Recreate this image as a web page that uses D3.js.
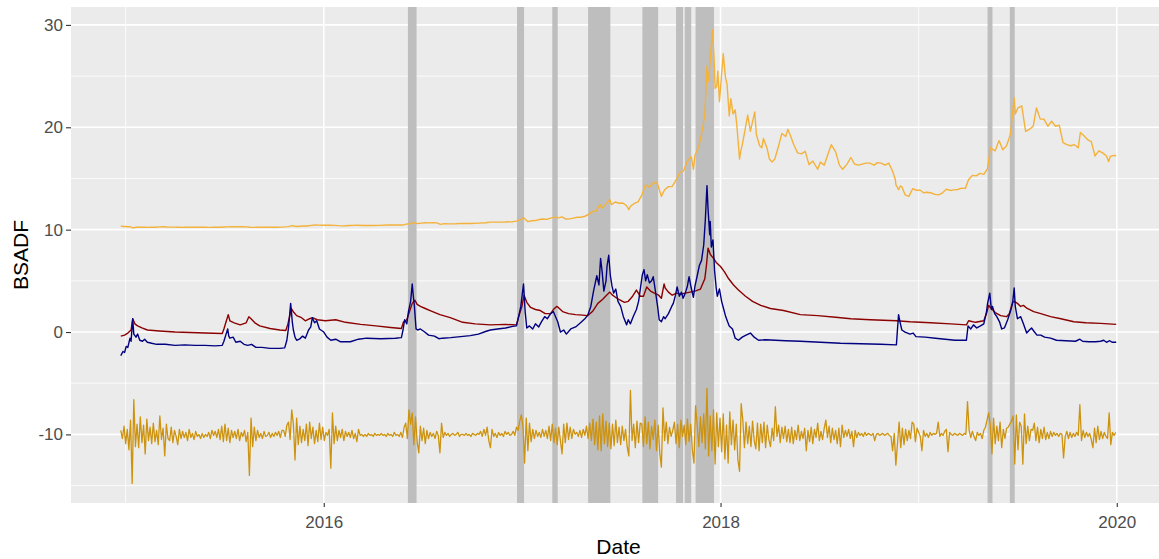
<!DOCTYPE html>
<html><head><meta charset="utf-8">
<script src="https://cdn.jsdelivr.net/npm/d3@7"></script>
<style>
body{margin:0;background:#fff;}
text{font-family:"Liberation Sans",Arial,Helvetica,sans-serif;}
</style>
</head><body>
<svg id="chart" width="1159" height="559"></svg>
<script>
// ---------------- DATA ----------------
const seriesStart = "2014-12-23";
const seriesEnd = "2019-12-31";
const yTickValues = [-10, 0, 10, 20, 30];
const yMinorValues = [-15, -5, 5, 15, 25];
const xTickLabels = ["2016", "2018", "2020"];
const xMinorLabels = ["2015", "2017", "2019"];
const xTitle = "Date";
const yTitle = "BSADF";

// shaded bubble periods [start, end]
const bubbleStarts = ["2016-06-04","2016-12-22","2017-02-25","2017-05-02","2017-08-10","2017-10-11","2017-10-27","2017-11-16","2019-05-08","2019-06-18"];
const bubbleEnds   = ["2016-06-20","2017-01-04","2017-03-07","2017-06-12","2017-09-08","2017-10-24","2017-11-08","2017-12-20","2019-05-17","2019-06-27"];

// price series (light orange)
const priceDates = ["2014-12-23","2014-12-30","2015-01-06","2015-01-10","2015-01-14","2015-01-21","2015-01-28","2015-02-04","2015-02-11","2015-02-18","2015-02-25","2015-03-04","2015-03-11","2015-03-18","2015-03-25","2015-04-01","2015-04-08","2015-04-15","2015-04-22","2015-04-29","2015-05-06","2015-05-13","2015-05-20","2015-05-27","2015-06-03","2015-06-10","2015-06-17","2015-06-24","2015-07-01","2015-07-08","2015-07-15","2015-07-22","2015-07-29","2015-08-05","2015-08-12","2015-08-19","2015-08-26","2015-09-02","2015-09-09","2015-09-16","2015-09-23","2015-09-30","2015-10-07","2015-10-14","2015-10-21","2015-10-28","2015-11-04","2015-11-11","2015-11-18","2015-11-25","2015-12-02","2015-12-09","2015-12-16","2015-12-23","2015-12-30","2016-01-06","2016-01-13","2016-01-20","2016-01-27","2016-02-03","2016-02-10","2016-02-17","2016-02-24","2016-03-02","2016-03-16","2016-03-30","2016-04-13","2016-04-27","2016-05-11","2016-05-25","2016-06-01","2016-06-08","2016-06-15","2016-06-22","2016-06-29","2016-07-06","2016-07-13","2016-07-20","2016-07-27","2016-08-03","2016-08-10","2016-08-17","2016-08-31","2016-09-14","2016-09-28","2016-10-12","2016-10-26","2016-11-02","2016-11-16","2016-11-30","2016-12-14","2016-12-21","2016-12-28","2017-01-04","2017-01-11","2017-01-18","2017-01-25","2017-02-01","2017-02-08","2017-02-15","2017-02-22","2017-03-01","2017-03-08","2017-03-15","2017-03-22","2017-03-29","2017-04-05","2017-04-12","2017-04-19","2017-04-26","2017-05-03","2017-05-10","2017-05-17","2017-05-24","2017-05-27","2017-05-31","2017-06-07","2017-06-11","2017-06-14","2017-06-21","2017-06-28","2017-07-05","2017-07-12","2017-07-16","2017-07-19","2017-07-26","2017-08-02","2017-08-09","2017-08-16","2017-08-23","2017-08-30","2017-09-06","2017-09-14","2017-09-20","2017-09-27","2017-10-04","2017-10-11","2017-10-18","2017-10-25","2017-11-01","2017-11-08","2017-11-12","2017-11-15","2017-11-22","2017-11-29","2017-12-03","2017-12-07","2017-12-10","2017-12-13","2017-12-17","2017-12-20","2017-12-22","2017-12-25","2017-12-27","2017-12-30","2018-01-03","2018-01-06","2018-01-10","2018-01-13","2018-01-17","2018-01-20","2018-01-24","2018-01-28","2018-01-31","2018-02-05","2018-02-07","2018-02-10","2018-02-14","2018-02-20","2018-02-25","2018-03-05","2018-03-08","2018-03-14","2018-03-18","2018-03-21","2018-03-28","2018-04-01","2018-04-06","2018-04-11","2018-04-18","2018-04-24","2018-05-01","2018-05-05","2018-05-09","2018-05-16","2018-05-23","2018-05-30","2018-06-06","2018-06-13","2018-06-20","2018-06-29","2018-07-04","2018-07-11","2018-07-18","2018-07-24","2018-08-01","2018-08-08","2018-08-14","2018-08-22","2018-08-29","2018-09-05","2018-09-12","2018-09-19","2018-09-26","2018-10-03","2018-10-11","2018-10-17","2018-10-24","2018-10-31","2018-11-07","2018-11-14","2018-11-19","2018-11-20","2018-11-25","2018-11-28","2018-12-01","2018-12-07","2018-12-14","2018-12-21","2018-12-28","2019-01-04","2019-01-10","2019-01-17","2019-01-24","2019-01-31","2019-02-07","2019-02-14","2019-02-21","2019-02-28","2019-03-07","2019-03-14","2019-03-21","2019-03-28","2019-04-03","2019-04-10","2019-04-17","2019-04-24","2019-05-01","2019-05-08","2019-05-13","2019-05-16","2019-05-22","2019-05-29","2019-06-05","2019-06-12","2019-06-19","2019-06-22","2019-06-26","2019-06-28","2019-07-03","2019-07-10","2019-07-17","2019-07-24","2019-07-31","2019-08-06","2019-08-13","2019-08-20","2019-08-27","2019-09-03","2019-09-10","2019-09-17","2019-09-24","2019-10-01","2019-10-08","2019-10-15","2019-10-22","2019-10-26","2019-11-01","2019-11-08","2019-11-15","2019-11-22","2019-11-29","2019-12-06","2019-12-13","2019-12-17","2019-12-20","2019-12-27","2019-12-31"];
const priceValues = [10.33,10.31,10.29,10.27,10.18,10.23,10.23,10.23,10.22,10.24,10.24,10.27,10.29,10.26,10.25,10.25,10.24,10.22,10.23,10.23,10.23,10.24,10.23,10.24,10.22,10.23,10.25,10.24,10.26,10.27,10.29,10.28,10.29,10.28,10.27,10.23,10.22,10.23,10.24,10.23,10.23,10.24,10.24,10.25,10.27,10.30,10.40,10.31,10.34,10.36,10.36,10.42,10.45,10.44,10.43,10.43,10.43,10.42,10.39,10.37,10.38,10.41,10.42,10.43,10.41,10.41,10.42,10.45,10.45,10.45,10.54,10.58,10.69,10.59,10.64,10.67,10.66,10.67,10.66,10.52,10.59,10.57,10.58,10.61,10.60,10.64,10.68,10.74,10.74,10.75,10.78,10.83,10.98,11.15,10.78,10.87,10.89,10.99,11.04,11.01,11.13,11.22,11.15,11.25,11.04,11.05,11.13,11.21,11.21,11.31,11.49,11.76,11.84,12.46,12.10,12.30,12.69,12.95,12.45,12.70,12.58,12.61,12.33,11.95,12.28,12.56,12.72,13.38,14.38,14.15,14.58,14.60,13.25,13.90,14.20,14.22,14.83,15.60,15.75,16.70,17.13,15.90,17.30,18.10,19.90,21.20,26.00,24.50,26.60,29.50,26.80,23.80,24.00,25.50,22.50,25.20,27.20,24.90,24.20,21.10,22.80,21.30,21.70,20.20,16.90,17.60,18.30,19.40,21.20,19.60,21.50,19.30,18.20,18.00,18.90,17.90,16.90,16.60,16.90,18.20,19.40,19.10,19.80,19.30,18.30,17.50,17.40,17.65,16.35,16.70,15.90,16.60,16.30,17.40,18.30,17.60,16.30,15.90,16.40,17.05,16.40,16.30,16.40,16.50,16.50,16.30,16.55,16.50,16.30,16.50,15.70,14.90,14.40,13.90,14.25,14.20,13.40,13.25,14.00,13.85,13.85,13.60,13.65,13.58,13.45,13.40,13.60,13.95,13.83,13.89,13.92,14.05,14.03,14.90,15.30,15.25,15.50,15.40,15.95,18.00,17.90,17.70,18.70,17.80,18.20,19.30,20.80,22.90,21.30,21.90,22.10,19.60,19.80,20.10,21.90,20.80,20.80,20.10,20.60,20.10,20.20,18.50,18.30,18.20,18.30,18.00,19.50,19.20,18.80,18.60,17.20,17.70,17.50,17.20,16.65,17.15,17.25,17.20];

// BSADF statistic (navy)
const bsadfDates = ["2014-12-23","2014-12-27","2014-12-30","2015-01-02","2015-01-05","2015-01-09","2015-01-11","2015-01-14","2015-01-16","2015-01-20","2015-01-23","2015-01-27","2015-02-01","2015-02-05","2015-02-10","2015-02-18","2015-02-27","2015-03-15","2015-04-02","2015-04-20","2015-05-09","2015-05-27","2015-06-15","2015-06-28","2015-07-01","2015-07-05","2015-07-08","2015-07-10","2015-07-12","2015-07-18","2015-07-23","2015-07-31","2015-08-07","2015-08-14","2015-08-21","2015-08-29","2015-09-09","2015-09-24","2015-10-12","2015-10-21","2015-10-25","2015-10-28","2015-11-01","2015-11-04","2015-11-06","2015-11-09","2015-11-12","2015-11-17","2015-11-23","2015-11-28","2015-12-04","2015-12-08","2015-12-11","2015-12-15","2015-12-19","2015-12-24","2016-01-01","2016-01-07","2016-01-14","2016-01-23","2016-02-01","2016-02-19","2016-03-05","2016-03-20","2016-04-15","2016-05-12","2016-05-23","2016-05-26","2016-05-29","2016-06-02","2016-06-05","2016-06-09","2016-06-12","2016-06-14","2016-06-16","2016-06-19","2016-06-22","2016-06-27","2016-07-05","2016-07-12","2016-07-23","2016-07-31","2016-08-07","2016-08-22","2016-09-09","2016-09-27","2016-10-12","2016-10-25","2016-11-03","2016-11-16","2016-12-01","2016-12-14","2016-12-21","2016-12-25","2016-12-29","2017-01-03","2017-01-06","2017-01-09","2017-01-14","2017-01-20","2017-01-25","2017-01-31","2017-02-05","2017-02-11","2017-02-16","2017-02-22","2017-02-27","2017-03-03","2017-03-07","2017-03-12","2017-03-18","2017-03-23","2017-03-31","2017-04-09","2017-04-18","2017-04-26","2017-05-01","2017-05-07","2017-05-12","2017-05-18","2017-05-22","2017-05-25","2017-05-28","2017-05-31","2017-06-04","2017-06-06","2017-06-09","2017-06-12","2017-06-15","2017-06-18","2017-06-22","2017-06-26","2017-07-01","2017-07-06","2017-07-12","2017-07-15","2017-07-19","2017-07-24","2017-07-30","2017-08-03","2017-08-07","2017-08-10","2017-08-13","2017-08-16","2017-08-19","2017-08-23","2017-08-27","2017-08-30","2017-09-03","2017-09-07","2017-09-10","2017-09-14","2017-09-18","2017-09-21","2017-09-27","2017-10-03","2017-10-06","2017-10-10","2017-10-13","2017-10-17","2017-10-21","2017-10-24","2017-10-28","2017-11-01","2017-11-04","2017-11-08","2017-11-12","2017-11-15","2017-11-19","2017-11-23","2017-11-27","2017-12-01","2017-12-04","2017-12-07","2017-12-09","2017-12-12","2017-12-13","2017-12-15","2017-12-18","2017-12-21","2017-12-24","2017-12-26","2017-12-30","2018-01-03","2018-01-06","2018-01-10","2018-01-14","2018-01-17","2018-01-23","2018-01-28","2018-02-03","2018-02-10","2018-02-17","2018-02-25","2018-03-04","2018-03-12","2018-03-25","2018-04-12","2018-05-01","2018-05-28","2018-07-04","2018-08-10","2018-09-16","2018-10-23","2018-11-21","2018-11-23","2018-11-25","2018-11-28","2018-12-01","2018-12-07","2018-12-16","2018-12-22","2018-12-27","2019-01-13","2019-02-01","2019-02-19","2019-03-09","2019-03-30","2019-04-02","2019-04-07","2019-04-12","2019-04-18","2019-04-25","2019-05-01","2019-05-06","2019-05-08","2019-05-12","2019-05-15","2019-05-17","2019-05-21","2019-05-25","2019-05-30","2019-06-03","2019-06-08","2019-06-14","2019-06-19","2019-06-23","2019-06-26","2019-06-28","2019-07-02","2019-07-08","2019-07-13","2019-07-19","2019-07-24","2019-07-28","2019-08-01","2019-08-07","2019-08-14","2019-08-21","2019-09-01","2019-09-12","2019-09-29","2019-10-17","2019-10-25","2019-10-30","2019-11-10","2019-11-23","2019-12-02","2019-12-08","2019-12-13","2019-12-19","2019-12-24","2019-12-31"];
const bsadfValues = [-2.3,-1.9,-2.0,-1.4,-1.5,-0.6,-0.9,1.3,-0.2,-0.5,-0.2,-0.8,-0.9,-0.7,-1.0,-1.1,-1.2,-1.2,-1.3,-1.25,-1.3,-1.3,-1.35,-1.3,-0.9,-0.2,0.3,-0.4,-0.6,-0.5,-1.0,-0.9,-1.2,-1.3,-1.2,-1.5,-1.5,-1.6,-1.6,-1.55,-0.8,0.4,2.8,1.0,0.2,-0.5,-0.8,-0.7,-0.4,-0.6,0.2,0.5,1.4,0.9,1.1,0.3,0.0,-0.5,-0.8,-0.7,-0.95,-0.95,-0.7,-0.6,-0.65,-0.6,-0.55,0.2,1.2,0.8,2.0,3.0,4.7,3.5,2.5,0.3,0.2,0.3,0.0,-0.3,-0.4,-0.65,-0.6,-0.55,-0.45,-0.35,-0.2,0.05,0.2,0.3,0.4,0.55,0.6,1.5,2.5,4.7,2.0,0.4,0.6,0.3,0.8,0.5,1.0,1.5,1.3,1.8,2.0,1.5,1.0,0.0,0.2,-0.2,0.3,0.5,0.9,1.3,1.6,2.5,4.0,5.5,4.6,7.2,5.8,4.0,5.0,6.5,7.5,5.5,4.5,3.8,4.2,3.0,2.5,1.5,0.7,1.2,0.8,1.5,2.2,3.0,4.5,5.6,6.1,5.0,5.6,4.8,5.0,5.4,4.0,2.5,1.2,1.0,1.5,1.3,1.8,2.5,2.8,3.6,4.4,3.5,3.9,3.3,3.8,4.5,5.4,4.3,3.4,4.5,5.5,6.5,7.0,8.5,11.0,14.3,12.0,9.5,10.8,8.3,9.0,6.0,4.3,3.5,4.2,3.0,2.4,1.6,1.0,0.6,0.3,-0.6,-0.8,-0.5,-0.3,-0.1,-0.5,-0.8,-0.75,-0.8,-0.85,-0.9,-1.0,-1.1,-1.15,-1.2,-1.25,0.3,1.7,0.9,0.2,0.0,-0.2,-0.1,-0.45,-0.5,-0.6,-0.7,-0.8,-0.8,0.6,0.3,0.7,0.4,0.6,0.8,2.0,2.8,3.8,2.2,2.5,1.8,1.5,1.0,0.3,0.4,1.2,2.0,2.8,4.3,2.5,1.3,1.5,0.8,-0.1,0.2,0.4,0.1,-0.3,-0.3,-0.5,-0.6,-0.8,-0.85,-0.9,-0.7,-0.9,-0.95,-0.95,-0.9,-0.8,-1.0,-0.85,-1.0,-1.0];

// critical value sequence (dark red)
const cvDates = ["2014-12-23","2014-12-30","2015-01-05","2015-01-11","2015-01-14","2015-01-18","2015-01-23","2015-01-31","2015-02-10","2015-03-04","2015-04-02","2015-04-30","2015-05-27","2015-06-28","2015-07-01","2015-07-05","2015-07-09","2015-07-12","2015-07-20","2015-07-31","2015-08-11","2015-08-16","2015-08-20","2015-08-27","2015-09-05","2015-09-24","2015-10-12","2015-10-23","2015-10-27","2015-10-30","2015-11-02","2015-11-07","2015-11-12","2015-11-21","2015-11-28","2015-12-06","2015-12-11","2015-12-20","2016-01-04","2016-01-23","2016-02-10","2016-03-09","2016-04-06","2016-05-03","2016-05-23","2016-05-27","2016-06-02","2016-06-07","2016-06-12","2016-06-17","2016-06-21","2016-06-27","2016-07-06","2016-07-15","2016-08-02","2016-08-21","2016-09-13","2016-10-06","2016-11-03","2016-11-30","2016-12-21","2016-12-25","2016-12-31","2017-01-04","2017-01-09","2017-01-16","2017-01-25","2017-02-03","2017-02-12","2017-02-22","2017-02-27","2017-03-05","2017-03-08","2017-03-16","2017-03-27","2017-04-09","2017-04-22","2017-05-01","2017-05-10","2017-05-20","2017-05-29","2017-06-05","2017-06-11","2017-06-16","2017-06-24","2017-07-01","2017-07-08","2017-07-15","2017-07-23","2017-07-30","2017-08-06","2017-08-12","2017-08-18","2017-08-25","2017-09-01","2017-09-09","2017-09-14","2017-09-19","2017-09-21","2017-09-27","2017-10-04","2017-10-12","2017-10-19","2017-10-28","2017-11-06","2017-11-15","2017-11-25","2017-12-03","2017-12-06","2017-12-09","2017-12-13","2017-12-19","2017-12-24","2018-01-01","2018-01-08","2018-01-16","2018-01-25","2018-02-03","2018-02-16","2018-03-01","2018-03-16","2018-04-03","2018-04-27","2018-05-28","2018-06-29","2018-08-01","2018-08-29","2018-10-04","2018-11-21","2018-12-16","2019-01-23","2019-03-01","2019-03-30","2019-04-03","2019-04-16","2019-05-01","2019-05-06","2019-05-10","2019-05-13","2019-05-22","2019-06-01","2019-06-12","2019-06-17","2019-06-23","2019-06-26","2019-07-02","2019-07-08","2019-07-13","2019-07-20","2019-08-01","2019-08-14","2019-09-01","2019-09-20","2019-10-14","2019-11-05","2019-12-02","2019-12-31"];
const cvValues = [-0.4,-0.3,-0.1,0.2,1.3,0.8,0.6,0.4,0.2,0.1,0.0,-0.05,-0.1,-0.15,0.3,1.0,1.7,1.1,0.9,0.7,0.9,1.5,1.3,0.9,0.6,0.35,0.2,0.15,0.8,1.5,2.3,1.9,1.6,1.4,1.1,1.3,1.4,1.2,1.1,1.2,0.95,0.75,0.6,0.45,0.35,1.0,1.2,2.0,2.8,3.1,2.7,2.5,2.3,2.1,1.7,1.4,0.95,0.8,0.7,0.75,0.7,1.5,2.5,3.6,2.9,2.4,2.2,2.1,1.8,1.8,2.2,2.5,2.4,2.0,1.8,1.7,1.65,1.6,2.0,2.8,3.2,3.6,3.9,3.6,3.3,3.1,2.9,3.0,3.5,4.1,3.5,3.5,4.4,4.0,3.8,3.6,3.3,4.7,4.3,3.9,3.6,3.8,3.7,3.8,3.9,4.0,4.2,5.2,6.5,8.2,7.6,7.2,6.8,6.4,5.9,5.2,4.6,4.1,3.5,3.0,2.6,2.3,2.1,1.7,1.6,1.45,1.3,1.2,1.1,1.0,0.9,0.8,0.7,1.1,0.95,1.1,1.8,2.6,2.4,1.9,1.6,1.5,1.8,2.9,3.0,2.8,2.5,2.6,2.3,2.0,1.8,1.5,1.3,1.0,0.9,0.85,0.75];

// returns series (dark goldenrod), one value every 3 days from seriesStart
const returnStepDays = 3;
const returnValues = [
-9.6,-10.4,-9.2,-10.9,-9.5,-11.5,-8.6,-14.8,-6.6,-11.2,
-9.0,-11.3,-8.3,-10.8,-9.1,-11.9,-8.5,-10.6,-9.3,-10.9,
-8.9,-10.7,-9.6,-11.0,-8.2,-10.5,-9.4,-12.1,-9.0,-10.4,
-10.6,-9.3,-10.8,-9.6,-10.2,-11.0,-9.5,-10.4,-9.7,-10.3,
-9.8,-10.6,-9.5,-10.3,-9.9,-10.5,-9.7,-10.2,-10.0,-10.4,
-9.9,-10.3,-10.0,-10.2,-9.8,-10.4,-9.6,-10.1,-9.7,-10.3,
-9.5,-10.5,-9.2,-10.7,-9.0,-10.6,-9.4,-10.8,-9.6,-10.3,
-9.7,-10.4,-9.5,-10.6,-9.8,-10.2,-9.6,-10.7,-9.8,-14.0,
-8.4,-11.2,-9.3,-10.6,-9.6,-10.3,-9.9,-10.4,-9.7,-10.2,
-10.1,-9.8,-10.3,-9.9,-10.2,-9.8,-10.1,-9.7,-10.3,-9.6,
-9.6,-10.2,-9.1,-8.8,-10.5,-7.6,-9.0,-12.5,-8.4,-11.0,
-9.2,-10.8,-9.5,-10.6,-9.0,-11.1,-8.8,-10.4,-9.3,-10.9,
-9.6,-10.7,-8.9,-10.5,-9.3,-10.6,-9.8,-10.1,-9.5,-13.3,
-7.9,-10.9,-9.2,-10.6,-9.6,-10.3,-9.5,-10.6,-9.7,-10.2,
-9.8,-10.3,-9.6,-10.4,-9.9,-10.7,-9.5,-10.1,-10.0,-10.2,
-10.0,-10.2,-9.9,-10.1,-10.0,-10.2,-9.9,-10.1,-10.0,-10.1,
-9.9,-10.1,-10.0,-10.2,-9.9,-10.1,-10.0,-10.2,-9.8,-10.1,
-10.0,-10.2,-9.8,-10.3,-9.3,-8.9,-10.4,-7.6,-9.0,-7.9,
-11.0,-8.3,-10.7,-11.8,-9.2,-10.6,-9.4,-10.9,-9.6,-10.4,
-9.8,-10.2,-9.9,-10.4,-9.7,-10.1,-11.8,-8.9,-10.3,-9.8,
-10.1,-9.9,-10.2,-10.0,-9.9,-10.1,-10.0,-9.8,-10.2,-10.0,
-10.0,-10.1,-9.9,-10.1,-10.0,-10.2,-9.9,-10.0,-10.1,-9.9,
-10.0,-9.7,-10.2,-9.5,-10.1,-9.3,-10.6,-11.3,-9.5,-10.2,
-9.9,-10.3,-9.8,-10.1,-9.9,-10.2,-9.7,-10.0,-9.8,-10.1,
-10.0,-9.7,-10.1,-9.3,-9.6,-8.7,-8.1,-9.2,-12.8,-8.4,
-11.6,-8.9,-10.7,-9.5,-10.4,-9.6,-10.2,-9.8,-10.3,-9.5,
-10.2,-9.6,-10.4,-9.2,-10.6,-9.0,-10.8,-9.4,-11.0,-9.3,
-10.6,-11.9,-9.0,-10.8,-8.9,-10.5,-9.3,-10.4,-9.5,-10.0,
-9.8,-10.2,-9.6,-10.3,-9.5,-10.1,-9.2,-10.4,-8.9,-10.6,
-8.5,-11.0,-8.8,-11.5,-8.2,-11.6,-8.0,-10.9,-8.7,-11.2,
-8.9,-11.4,-9.0,-11.1,-8.6,-10.8,-9.3,-11.0,-9.2,-10.6,
-9.5,-11.2,-12.1,-5.7,-10.6,-9.0,-11.3,-8.7,-10.8,-8.9,
-9.0,-11.2,-8.3,-10.9,-8.8,-11.4,-9.2,-10.5,-8.6,-11.6,
-9.1,-11.8,-13.2,-7.4,-10.6,-8.8,-10.9,-9.3,-10.2,-9.6,
-8.8,-10.9,-9.0,-11.3,-8.6,-10.2,-9.1,-11.0,-8.5,-10.7,
-9.0,-11.5,-12.8,-7.2,-9.1,-11.2,-8.3,-10.8,-8.0,-11.4,
-5.5,-12.1,-8.2,-11.6,-7.6,-12.9,-7.9,-11.2,-8.4,-11.7,
-8.0,-12.4,-9.1,-12.8,-7.8,-11.0,-8.6,-11.5,-9.0,-12.5,
-13.6,-7.0,-8.6,-11.3,-8.8,-10.9,-9.2,-11.2,-8.7,-10.6,
-11.4,-8.9,-11.6,-9.0,-10.8,-8.8,-11.3,-9.1,-10.5,-11.2,
-9.4,-10.6,-7.3,-10.2,-9.1,-10.8,-9.3,-10.4,-9.2,-10.7,
-9.5,-10.8,-9.3,-10.9,-9.6,-10.5,-9.1,-10.6,-9.7,-10.4,
-9.4,-11.6,-9.6,-10.7,-9.3,-10.9,-9.5,-10.3,-8.9,-10.6,
-9.7,-10.5,-9.4,-8.6,-10.3,-9.2,-10.8,-9.4,-10.5,-9.6,
-10.9,-9.4,-11.2,-9.1,-10.3,-9.6,-10.2,-9.5,-10.4,-9.7,
-11.2,-9.6,-10.3,-9.8,-10.1,-9.9,-10.2,-9.8,-10.1,-9.9,
-10.0,-10.1,-9.9,-10.6,-10.0,-9.9,-10.1,-10.0,-9.9,-10.1,
-10.0,-9.9,-10.1,-10.2,-11.6,-9.9,-13.0,-10.9,-8.8,-11.3,
-9.4,-11.0,-9.5,-10.6,-9.6,-10.4,-8.8,-9.0,-10.7,-9.4,
-9.8,-10.2,-11.6,-9.6,-10.2,-9.9,-10.3,-9.8,-10.1,-9.9,
-10.0,-9.9,-8.8,-10.2,-9.9,-10.1,-9.7,-9.5,-11.7,-9.8,
-10.0,-10.1,-9.9,-10.0,-10.1,-9.9,-10.0,-10.1,-9.9,-10.0,
-6.8,-9.6,-10.3,-9.7,-10.2,-10.6,-9.8,-10.1,-9.9,-10.4,
-9.6,-9.3,-8.6,-7.9,-9.1,-11.9,-8.4,-10.9,-9.2,-10.6,
-8.8,-11.3,-9.5,-10.4,-9.4,-9.3,-9.0,-8.7,-8.2,-12.9,
-8.1,-11.5,-8.8,-9.2,-12.9,-8.0,-10.9,-9.2,-10.6,-9.5,
-9.6,-8.9,-10.6,-9.3,-10.8,-9.5,-10.4,-9.3,-10.5,-9.8,
-10.4,-9.7,-10.2,-9.8,-10.1,-9.9,-10.2,-9.9,-10.0,-12.3,
-10.2,-9.7,-10.4,-9.8,-10.3,-9.9,-10.2,-9.8,-10.1,-7.1,
-10.6,-9.6,-10.3,-9.8,-10.2,-9.9,-10.5,-11.3,-9.4,-10.8,
-9.2,-10.5,-9.7,-10.4,-9.8,-10.2,-10.4,-7.9,-11.0,-9.8,
-10.1,-9.8
];

// ---------------- CHART ----------------
const W = 1159, H = 559;
const panel = {left: 71, right: 1166, top: 7, bottom: 503};
const parse = d3.timeParse("%Y-%m-%d");
const d0 = parse(seriesStart), d1 = parse(seriesEnd);
const span = d1 - d0;
const x = d3.scaleTime()
  .domain([new Date(+d0 - 0.05 * span), new Date(+d1 + 0.05 * span)])
  .range([panel.left, panel.right]);
const y = d3.scaleLinear().domain([-16.7, 31.75]).range([panel.bottom, panel.top]);

const svg = d3.select("#chart");
svg.append("rect").attr("width", W).attr("height", H).attr("fill", "#ffffff");

svg.append("defs").append("clipPath").attr("id", "clip")
  .append("rect").attr("x", panel.left).attr("y", panel.top)
  .attr("width", panel.right - panel.left).attr("height", panel.bottom - panel.top);

svg.append("rect").attr("x", panel.left).attr("y", panel.top)
  .attr("width", panel.right - panel.left).attr("height", panel.bottom - panel.top)
  .attr("fill", "#EBEBEB");

const grid = svg.append("g").attr("clip-path", "url(#clip)");
// minor gridlines
grid.selectAll(".ymin").data(yMinorValues).enter().append("line")
  .attr("x1", panel.left).attr("x2", panel.right)
  .attr("y1", d => y(d)).attr("y2", d => y(d))
  .attr("stroke", "#fff").attr("stroke-width", 0.8);
grid.selectAll(".xmin").data(xMinorLabels.map(s => parse(s + "-01-01"))).enter().append("line")
  .attr("y1", panel.top).attr("y2", panel.bottom)
  .attr("x1", d => x(d)).attr("x2", d => x(d))
  .attr("stroke", "#fff").attr("stroke-width", 0.8);
// major gridlines
grid.selectAll(".ymaj").data(yTickValues).enter().append("line")
  .attr("x1", panel.left).attr("x2", panel.right)
  .attr("y1", d => y(d)).attr("y2", d => y(d))
  .attr("stroke", "#fff").attr("stroke-width", 1.6);
const xTickDates = xTickLabels.map(s => parse(s + "-01-01"));
grid.selectAll(".xmaj").data(xTickDates).enter().append("line")
  .attr("y1", panel.top).attr("y2", panel.bottom)
  .attr("x1", d => x(d)).attr("x2", d => x(d))
  .attr("stroke", "#fff").attr("stroke-width", 1.6);

// bubble bands
const bands = bubbleStarts.map((s, i) => ({s: parse(s), e: parse(bubbleEnds[i])}));
grid.selectAll(".band").data(bands).enter().append("rect")
  .attr("x", d => x(d.s)).attr("width", d => x(d.e) - x(d.s))
  .attr("y", panel.top).attr("height", panel.bottom - panel.top)
  .attr("fill", "#BEBEBE");

// lines
const line = d3.line().x(d => x(d.date)).y(d => y(d.value));
const priceData = priceDates.map((d, i) => ({date: parse(d), value: priceValues[i]}));
const bsadfData = bsadfDates.map((d, i) => ({date: parse(d), value: bsadfValues[i]}));
const cvData = cvDates.map((d, i) => ({date: parse(d), value: cvValues[i]}));
const retData = returnValues.map((v, i) => ({date: d3.timeDay.offset(d0, i * returnStepDays), value: v}));

const lines = svg.append("g").attr("clip-path", "url(#clip)").attr("fill", "none")
  .attr("stroke-linejoin", "round");
lines.append("path").datum(priceData).attr("d", line).attr("stroke", "#F4B23A").attr("stroke-width", 1.4);
lines.append("path").datum(retData).attr("d", line).attr("stroke", "#CD930F").attr("stroke-width", 1.3);
lines.append("path").datum(cvData).attr("d", line).attr("stroke", "#8B0000").attr("stroke-width", 1.4);
lines.append("path").datum(bsadfData).attr("d", line).attr("stroke", "#000080").attr("stroke-width", 1.4);

// axes
const tickFont = 17;
const yAxis = svg.append("g").attr("transform", `translate(${panel.left},0)`)
  .call(d3.axisLeft(y).tickValues(yTickValues).tickSize(5).tickPadding(3).tickFormat(d3.format("d")));
const xAxis = svg.append("g").attr("transform", `translate(0,${panel.bottom})`)
  .call(d3.axisBottom(x).tickValues(xTickDates).tickSize(4).tickPadding(9).tickFormat(d3.timeFormat("%Y")));
[yAxis, xAxis].forEach(a => {
  a.select(".domain").remove();
  a.selectAll(".tick line").attr("stroke", "#333333").attr("stroke-width", 1.1);
  a.selectAll(".tick text").attr("fill", "#4D4D4D").style("font-size", tickFont + "px")
    .style("font-family", "'Liberation Sans', Arial, sans-serif");
});
yAxis.selectAll(".tick text").text(d => d < 0 ? "-" + Math.abs(d) : d);

svg.append("text").attr("x", (panel.left + panel.right) / 2).attr("y", 554)
  .attr("text-anchor", "middle").attr("fill", "#000").style("font-size", "21px").text(xTitle);
svg.append("text").attr("transform", `translate(28,${(panel.top + panel.bottom) / 2}) rotate(-90)`)
  .attr("text-anchor", "middle").attr("fill", "#000").style("font-size", "21px").text(yTitle);
</script>
</body></html>
